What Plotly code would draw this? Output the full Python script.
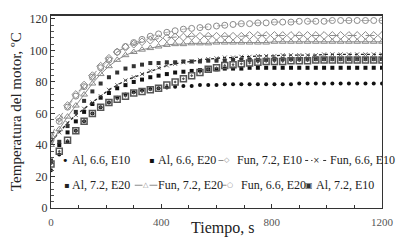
import plotly.graph_objects as go

# ---- data ----
tiempo = [0, 30, 60, 90, 120, 150, 180, 210, 240, 270, 300, 330, 360, 390, 420, 450, 480, 510, 540, 570,
          600, 630, 660, 690, 720, 750, 780, 810, 840, 870, 900, 930, 960, 990, 1020, 1050, 1080, 1110,
          1140, 1170, 1200]

al_66_e10 = [24, 34, 42, 49, 55, 60, 64, 67, 70, 72,
             73.5, 74.5, 75.5, 76, 76.5, 77, 77.5, 77.5, 78, 78,
             78, 78.5, 78.5, 78.5, 78.5, 78.5, 78.5, 78.5, 78.5, 78.5,
             79, 79, 79, 79, 79, 79, 79, 79, 79, 79, 79]
al_66_e20 = [30, 40, 48, 55, 61, 66, 70, 73, 76, 78,
             80, 81.5, 83, 84, 85, 86, 86.5, 87, 87.5, 88,
             88, 88.5, 88.5, 88.5, 89, 89, 89, 89, 89, 89,
             89, 89, 89, 89, 89, 89, 89, 89, 89, 89, 89]
fun_72_e10 = [45, 57, 65, 72, 78, 84, 90, 95, 99, 102,
              104, 105.5, 106.5, 107.5, 108, 108.5, 108.5, 109, 109, 109,
              109, 109, 109, 109, 109.5, 109.5, 109.5, 109.5, 109.5, 109.5,
              109.5, 109.5, 109.5, 109.5, 109.5, 109.5, 109.5, 109.5, 109.5, 109.5, 109.5]
fun_66_e10 = [42, 48, 54, 59, 63, 67, 71, 75, 78, 81,
              83, 85, 87, 89, 90.5, 91.5, 92.5, 93, 94, 94.5,
              95, 95.5, 95.5, 96, 96, 96.5, 96.5, 96.5, 97, 97,
              97, 97, 97, 97.5, 97.5, 97.5, 97.5, 97.5, 97.5, 97.5, 97.5]
al_72_e20 = [30, 42, 52, 61, 68, 74, 79, 83, 86, 88.5,
             90, 91, 92, 92, 92.5, 92.5, 93, 93, 93, 93.5,
             93.5, 93.5, 94, 94, 94, 94, 94, 94.5, 94.5, 94.5,
             94.5, 94.5, 94.5, 94.5, 94.5, 94.5, 94.5, 94.5, 94.5, 94.5, 94.5]
fun_72_e20 = [40, 50, 58, 65, 72, 79, 85, 90, 94, 97,
              99, 100.5, 101.5, 102.5, 103.5, 104, 104, 104.5, 104.5, 104.5,
              105, 105, 105, 105, 105, 105, 105, 105.5, 105.5, 105.5,
              105.5, 105.5, 105.5, 105.5, 105.5, 105.5, 105.5, 105.5, 105.5, 105.5, 105.5]
fun_66_e20 = [43, 55, 64, 71, 77, 83, 89, 94, 99, 102.5,
              105, 107, 109, 110.5, 111.5, 112.5, 113.5, 114, 114.5, 115,
              115.5, 116, 116.5, 117, 117, 117.5, 117.5, 118, 118, 118,
              118.5, 118.5, 118.5, 118.5, 119, 119, 119, 119, 119, 119, 119]
al_72_e10 = [28, 36, 43, 49, 55, 60, 64, 67, 69, 71,
             73, 74, 75, 76, 78, 80, 82, 84, 86, 88,
             89, 90.5, 91, 91.5, 92, 92.5, 93, 93, 93, 93.5,
             93.5, 93.5, 94, 94, 94, 94, 94, 94, 94, 94, 94]

x_ticks = [0, 400, 800, 1200]
y_ticks = [0, 20, 40, 60, 80, 100, 120]

FONT = "Liberation Serif"
fig = go.Figure()

GRAY = "#8a8a8a"
series = [
    ("Al, 6.6, E10", al_66_e10, dict(mode="markers", marker=dict(symbol="circle", size=4, color="#111"))),
    ("Al, 6.6, E20", al_66_e20, dict(mode="markers", marker=dict(symbol="square", size=4, color="#111"))),
    ("Fun, 7.2, E10", fun_72_e10, dict(mode="lines+markers", line=dict(color=GRAY, width=1, dash="dash"),
                                       marker=dict(symbol="diamond-open", size=6, color=GRAY, line=dict(width=1)))),
    ("Fun, 6.6, E10", fun_66_e10, dict(mode="lines+markers", line=dict(color="#222", width=1.3, dash="dot"),
                                       marker=dict(symbol="x-thin", size=4, color="#444", line=dict(width=0.8, color="#444")))),
    ("Al, 7.2, E20", al_72_e20, dict(mode="markers", marker=dict(symbol="square", size=4, color="#333"))),
    ("Fun, 7.2, E20", fun_72_e20, dict(mode="lines+markers", line=dict(color=GRAY, width=1),
                                       marker=dict(symbol="triangle-up-open", size=6, color=GRAY, line=dict(width=1)))),
    ("Fun, 6.6, E20", fun_66_e20, dict(mode="lines+markers", line=dict(color="#9a9a9a", width=0.8, dash="dash"),
                                       marker=dict(symbol="circle-open", size=6, color=GRAY, line=dict(width=1)))),
    ("Al, 7.2, E10", al_72_e10, dict(mode="markers", marker=dict(symbol="square-open-dot", size=6, color="#555", line=dict(width=1.5)))),
]

for name, ys, style in series:
    fig.add_trace(go.Scatter(x=tiempo, y=ys, name=name, showlegend=False, **style))

# plot area: left 51, right 387, top 13, bottom 208 (px)
L, R, T, B = 51, 19, 13, 33
W, H = 406, 241
pw, ph = W - L - R, H - T - B

def px_x(x):
    return (x - L) / pw

def px_y(y):
    return (H - B - y) / ph

fig.update_layout(
    width=W, height=H,
    margin=dict(l=L, r=R, t=T, b=B, pad=0),
    paper_bgcolor="white", plot_bgcolor="white",
    font=dict(family=FONT, size=12, color="#222"),
    showlegend=False,
)

fig.update_xaxes(
    range=[0, 1200], tickvals=x_ticks, ticktext=[str(v) for v in x_ticks],
    showgrid=False, zeroline=False, showline=True, linecolor="#333", linewidth=1, mirror=True,
    ticks="inside", ticklen=4, tickcolor="#333", ticklabelstandoff=4,
    minor=dict(dtick=100, ticks="inside", ticklen=3, tickcolor="#333", showgrid=False),
    tickfont=dict(family=FONT, size=11, color="#555"),
)
fig.update_yaxes(
    range=[0, 122.5], tickvals=y_ticks, ticktext=[str(v) for v in y_ticks],
    showgrid=False, zeroline=False, showline=True, linecolor="#333", linewidth=1, mirror=True,
    ticks="inside", ticklen=4, tickcolor="#333",
    minor=dict(dtick=4, ticks="inside", ticklen=2.5, tickcolor="#555", showgrid=False),
    tickfont=dict(family=FONT, size=12, color="#333"),
)

# thicker top frame line
fig.add_shape(type="line", xref="paper", yref="paper", x0=0, x1=1, y0=1, y1=1,
              line=dict(color="#333", width=2))

# ---- legend drawn as key glyph + label (two rows inside the plot) ----
# (label, row y px, glyph x px, text x px, stub line px or None, glyph, glyph colour, glyph size, dash)
legend_items = [
    ("Al, 6.6, E10", 160, 66, 71, None, "\u2022", "#111", 11, None),
    ("Al, 6.6, E20", 160, 153, 159, None, "\u25aa", "#111", 8, None),
    ("Fun, 7.2, E10", 160, 230, 239, (221, 239), "\u25c7", GRAY, 7, "dash"),
    ("Fun, 6.6, E10", 160, 321, 333, (309, 333), "\u00d7", "#333", 8, "dot"),
    ("Al, 7.2, E20", 185, 67, 71, None, "\u25aa", "#222", 8, None),
    ("Fun, 7.2, E20", 185, 147, 159, (136, 159), "\u25b3", GRAY, 7, "solid"),
    ("Fun, 6.6, E20", 185, 233, 243, (225, 242), "\u25cb", GRAY, 7, "dash"),
    ("Al, 7.2, E10", 185, 313, 319, None, "\u25a3", "#333", 8, None),
]
for label, ry, gx, tx, stub, glyph, gcol, gsize, dash in legend_items:
    if stub is not None:
        fig.add_shape(type="line", xref="paper", yref="paper",
                      x0=px_x(stub[0]), x1=px_x(stub[1]), y0=px_y(ry), y1=px_y(ry),
                      line=dict(color=gcol, width=1, dash=dash))
    fig.add_annotation(text=glyph, xref="paper", yref="paper", x=px_x(gx), y=px_y(ry),
                       showarrow=False, xanchor="center", yanchor="middle", borderpad=0,
                       bgcolor="white" if stub is not None else None,
                       font=dict(family="DejaVu Sans", size=gsize, color=gcol))
    fig.add_annotation(text=label, xref="paper", yref="paper", x=px_x(tx), y=px_y(ry),
                       showarrow=False, xanchor="left", yanchor="middle", borderpad=0,
                       font=dict(family=FONT, size=12, color="#222"))

fig.add_annotation(text="Temperatura del motor, ºC", xref="paper", yref="paper",
                   x=px_x(15), y=0.5, textangle=-90, showarrow=False,
                   font=dict(family=FONT, size=15, color="#222"), xanchor="center", yanchor="middle")
fig.add_annotation(text="Tiempo, s", xref="paper", yref="paper",
                   x=px_x(225), y=px_y(228), showarrow=False,
                   font=dict(family=FONT, size=16, color="#222"), xanchor="center", yanchor="middle")

fig.write_html("out.html", config={"displayModeBar": False},
               post_script="document.body.style.margin='0';document.body.style.overflow='hidden';")
